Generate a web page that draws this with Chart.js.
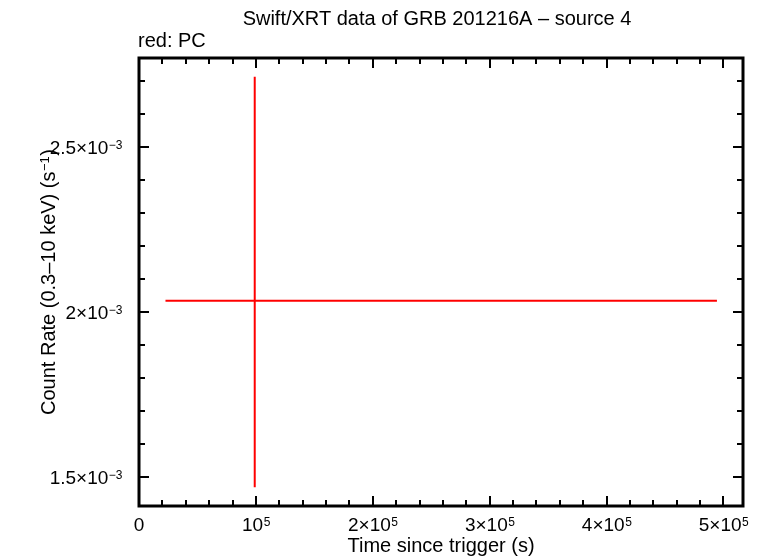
<!DOCTYPE html>
<html>
<head>
<meta charset="utf-8">
<script src="https://cdn.jsdelivr.net/npm/chart.js@4/dist/chart.umd.min.js"></script>
<style>
  html, body { margin: 0; padding: 0; background: #ffffff; }
  #wrap { width: 764px; height: 558px; }
</style>
</head>
<body>
<div id="wrap"><canvas id="c" width="764" height="558"></canvas></div>
<script>
// ---- data ----
const times     = [99000];       // s since trigger
const timeLow   = [22650];       // start of x error bar
const timeHigh  = [494400];      // end of x error bar
const rates     = [2.035e-3];    // count rate (s^-1)
const rateLow   = [1.470e-3];
const rateHigh  = [2.713e-3];

const xMajorTicks = [0, 1e5, 2e5, 3e5, 4e5, 5e5];
const xTickMant   = ['0', '', '2\u00d7', '3\u00d7', '4\u00d7', '5\u00d7'];
const xTickExp    = ['', '5', '5', '5', '5', '5'];
const yMajorTicks = [1.5e-3, 2e-3, 2.5e-3];
const yTickMant   = ['1.5\u00d7', '2\u00d7', '2.5\u00d7'];
const yTickExp    = ['\u22123', '\u22123', '\u22123'];
const xMinorStep = 2e4;
const yMinorStep = 1e-4;

const xMin = 0, xMax = 516700;
const yMin = 1.413e-3, yMax = 2.770e-3;

const titleText = 'Swift/XRT data of GRB 201216A \u2013 source 4';
const legendText = 'red: PC';
const xTitle = 'Time since trigger (s)';
const yTitle = 'Count Rate (0.3\u201310 keV) (s';
const FONT = '"Liberation Sans", Arial, Helvetica, sans-serif';

// error-bar segments built from the arrays
const datasets = [];
for (let i = 0; i < times.length; i++) {
  datasets.push({
    data: [{x: timeLow[i], y: rates[i]}, {x: timeHigh[i], y: rates[i]}],
    borderColor: '#ff0000', borderWidth: 2, pointRadius: 0, showLine: true
  });
  datasets.push({
    data: [{x: times[i], y: rateLow[i]}, {x: times[i], y: rateHigh[i]}],
    borderColor: '#ff0000', borderWidth: 2, pointRadius: 0, showLine: true
  });
}

function drawLabel(ctx, mant, base, exp, x, y, align) {
  const big = '19px ' + FONT, small = '12px ' + FONT;
  ctx.font = big;
  const w1 = ctx.measureText(mant + base).width;
  ctx.font = small;
  const w2 = ctx.measureText(exp).width;
  const total = w1 + w2;
  let x0 = align === 'right' ? x - total : x - total / 2;
  ctx.textAlign = 'left';
  ctx.textBaseline = 'alphabetic';
  ctx.font = big;
  ctx.fillText(mant + base, x0, y);
  if (exp) {
    ctx.font = small;
    ctx.fillText(exp, x0 + w1 + 0.5, y - 5);
  }
}

const framePlugin = {
  id: 'frame',
  afterDatasetsDraw(chart) {
    const {ctx, chartArea: a, scales} = chart;
    const xs = scales.x, ys = scales.y;
    ctx.save();
    ctx.strokeStyle = '#000';
    ctx.fillStyle = '#000';
    // ticks
    ctx.lineWidth = 2;
    ctx.beginPath();
    for (let v = xMin; v <= xMax + 1; v += xMinorStep) {
      const px = Math.round(xs.getPixelForValue(v));
      const major = xMajorTicks.some(t => Math.abs(t - v) < 1);
      const L = major ? 10 : 6;
      ctx.moveTo(px, a.bottom); ctx.lineTo(px, a.bottom - L);
      ctx.moveTo(px, a.top); ctx.lineTo(px, a.top + L);
    }
    for (let k = Math.ceil(yMin / yMinorStep); k * yMinorStep <= yMax; k++) {
      const v = k * yMinorStep;
      const py = Math.round(ys.getPixelForValue(v));
      const major = yMajorTicks.some(t => Math.abs(t - v) < 1e-9);
      const L = major ? 10 : 6;
      ctx.moveTo(a.left, py); ctx.lineTo(a.left + L, py);
      ctx.moveTo(a.right, py); ctx.lineTo(a.right - L, py);
    }
    ctx.stroke();
    // frame
    ctx.lineWidth = 3;
    ctx.strokeRect(a.left, a.top, a.right - a.left, a.bottom - a.top);

    // tick labels
    xMajorTicks.forEach((v, i) => {
      const px = xs.getPixelForValue(v);
      drawLabel(ctx, xTickMant[i], v === 0 ? '' : '10', xTickExp[i], px, 531, 'center');
    });
    yMajorTicks.forEach((v, i) => {
      const py = ys.getPixelForValue(v);
      drawLabel(ctx, yTickMant[i], '10', yTickExp[i], 122, py + 6.5, 'right');
    });

    // titles
    ctx.font = '20px ' + FONT;
    ctx.textAlign = 'center';
    ctx.textBaseline = 'alphabetic';
    ctx.fillText(titleText, 437, 25);
    ctx.textAlign = 'left';
    ctx.fillText(legendText, 138, 47);
    ctx.textAlign = 'center';
    ctx.fillText(xTitle, (a.left + a.right) / 2, 552);

    // y title rotated with superscript
    ctx.save();
    ctx.translate(55, (a.top + a.bottom) / 2);
    ctx.rotate(-Math.PI / 2);
    ctx.font = '20px ' + FONT;
    const w1 = ctx.measureText(yTitle).width;
    ctx.font = '13px ' + FONT;
    const w2 = ctx.measureText('\u22121').width;
    ctx.font = '20px ' + FONT;
    const w3 = ctx.measureText(')').width;
    const tot = w1 + w2 + w3 + 1;
    let x0 = -tot / 2;
    ctx.textAlign = 'left';
    ctx.fillText(yTitle, x0, 0);
    ctx.font = '13px ' + FONT;
    ctx.fillText('\u22121', x0 + w1 + 0.5, -6);
    ctx.font = '20px ' + FONT;
    ctx.fillText(')', x0 + w1 + w2 + 1, 0);
    ctx.restore();

    ctx.restore();
  }
};

new Chart(document.getElementById('c'), {
  type: 'scatter',
  data: { datasets },
  options: {
    responsive: false,
    animation: false,
    layout: { padding: { left: 139, right: 21, top: 58, bottom: 52 } },
    plugins: { legend: { display: false }, tooltip: { enabled: false }, title: { display: false } },
    scales: {
      x: { type: 'linear', min: xMin, max: xMax, display: false },
      y: { type: 'linear', min: yMin, max: yMax, display: false }
    }
  },
  plugins: [framePlugin]
});
</script>
</body>
</html>
